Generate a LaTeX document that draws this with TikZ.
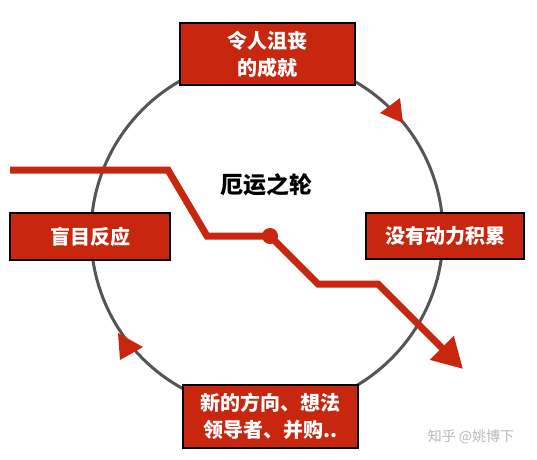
\documentclass[tikz,border=0pt]{standalone}
\usepackage{fontspec}
\newfontfamily\cjk{Noto Sans CJK SC}
\usetikzlibrary{arrows.meta}
\definecolor{myred}{RGB}{200,38,14}
\definecolor{ringgray}{RGB}{85,85,85}
\begin{document}
\begin{tikzpicture}[x=1pt,y=-1pt,
  box/.style={draw=black, line width=2.2pt, fill=myred, text=white,
    font=\cjk\bfseries\fontsize{20}{27}\selectfont, align=center, inner sep=0pt},
  redline/.style={myred, line width=7pt},
  ringhead/.style={fill=myred}]
\useasboundingbox (0,0) rectangle (537,459);
% ring
\node[circle, draw=ringgray, line width=3pt, minimum size=352pt, inner sep=0pt] (ring) at (267,234) {};
\fill[ringhead] (403,123) -- (380,113) -- (400,98) -- cycle;
\fill[ringhead] (118,333) -- (143,347) -- (120,360) -- cycle;
% boxes
\node[box, minimum width=175pt, minimum height=62pt] (top) at (267.5,54) {令人沮丧\\的成就};
\node[box, minimum width=160pt, minimum height=47pt] (left) at (90,236.5) {盲目反应};
\node[box, minimum width=158pt, minimum height=46pt] (right) at (445,236) {没有动力积累};
\node[box, minimum width=175pt, minimum height=63pt] (bottom) at (270.5,416.5) {新的方向、想法\\领导者、并购..};
% title
\node[font=\cjk\bfseries\fontsize{23}{23}\selectfont] (title) at (266,185) {厄运之轮};
% zigzag
\coordinate (p0) at (10,170);
\coordinate (p1) at (168,170);
\coordinate (p2) at (207,236);
\coordinate (pd) at (270,236);
\coordinate (p3) at (318,284);
\coordinate (p4) at (378,284);
\coordinate (tip) at (463,369);
\draw[redline, -{Triangle[length=30pt,width=32pt]}] (p0) -- (p1) -- (p2) -- (pd) -- (p3) -- (p4) -- (tip);
\node[circle, fill=myred, minimum size=16pt, inner sep=0pt] (dot) at (pd) {};
% watermark
\node[text=black!28, font=\cjk\fontsize{14}{14}\selectfont] (wm) at (471,437) {知乎 @姚博下};
\end{tikzpicture}
\end{document}
